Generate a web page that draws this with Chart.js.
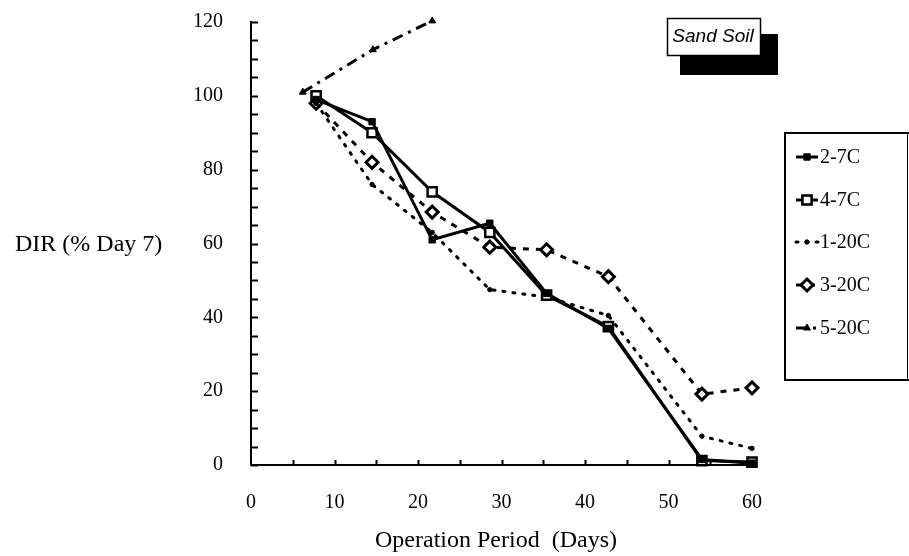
<!DOCTYPE html>
<html><head><meta charset="utf-8">
<script src="https://cdn.jsdelivr.net/npm/chart.js@4/dist/chart.umd.min.js"></script>
<style>html,body{margin:0;padding:0;background:#fff;}#wrap{position:relative;width:909px;height:556px;}canvas{display:block}</style>
</head><body><div id="wrap"><canvas id="c" width="909" height="556"></canvas></div>
<script>
const seriesNames = ['2-7C', '4-7C', '1-20C', '3-20C', '5-20C'];
const days = [7.8, 14.5, 21.7, 28.6, 35.4, 42.8, 54, 60];
const days520 = [6.2, 14.6, 21.7];
const s27 = [99, 93, 61, 65.5, 46.5, 37, 1.5, 0.5];
const s47 = [100, 90, 74, 63, 46, 37.5, 1.2, 0.8];
const s120 = [98, 76, 63, 47.5, 45.5, 40.5, 7.8, 4.5];
const s320 = [98, 82, 68.5, 59, 58.3, 51, 19.2, 20.9];
const s520 = [101, 112.5, 120.3];
const xTicks = [0, 10, 20, 30, 40, 50, 60];
const yTicks = [0, 20, 40, 60, 80, 100, 120];
const xTitle = 'Operation Period  (Days)';
const yTitle = 'DIR (% Day 7)';
const boxTitle = 'Sand Soil';

const K = '#000';
const pts = (xs, ys) => xs.map((x, i) => ({x: x, y: ys[i]}));
const datasets = [
  {label: seriesNames[0], data: pts(days, s27), borderColor: K, borderWidth: 3, pointStyle: 'rect', pointRadius: 4.5, pointBackgroundColor: K, pointBorderColor: K, pointBorderWidth: 1},
  {label: seriesNames[1], data: pts(days, s47), borderColor: K, borderWidth: 3, pointStyle: 'rect', pointRadius: 6.5, pointBackgroundColor: '#fff', pointBorderColor: K, pointBorderWidth: 2.5},
  {label: seriesNames[2], data: pts(days, s120), borderColor: K, borderWidth: 3, borderDash: [2, 8], borderCapStyle: 'round', pointStyle: 'circle', pointRadius: 2.2, pointBackgroundColor: K, pointBorderColor: K, pointBorderWidth: 1},
  {label: seriesNames[3], data: pts(days, s320), borderColor: K, borderWidth: 3, borderDash: [6, 7], pointStyle: 'rectRot', pointRadius: 6, pointBackgroundColor: '#fff', pointBorderColor: K, pointBorderWidth: 3},
  {label: seriesNames[4], data: pts(days520, s520), borderColor: K, borderWidth: 3, borderDash: [11, 6, 3, 6], pointStyle: 'triangle', pointRadius: 4, pointBackgroundColor: K, pointBorderColor: K, pointBorderWidth: 1}
];
datasets.forEach(d => { d.fill = false; d.tension = 0; d.clip = false; d.pointHoverRadius = d.pointRadius; });

const serif = "'Liberation Serif', 'Times New Roman', serif";

const decor = {
  id: 'decor',
  afterDraw(chart) {
    const ctx = chart.ctx;
    const xs = chart.scales.x, ys = chart.scales.y;
    ctx.save();
    ctx.strokeStyle = K; ctx.lineWidth = 2; ctx.setLineDash([]);
    ys.ticks.forEach(t => {
      const py = Math.round(ys.getPixelForValue(t.value)) + 0.5;
      ctx.beginPath(); ctx.moveTo(ys.right, py); ctx.lineTo(ys.right + 7, py); ctx.stroke();
    });
    xs.ticks.forEach(t => {
      if (t.value === 0) return;
      const px = Math.round(xs.getPixelForValue(t.value)) + 0.5;
      ctx.beginPath(); ctx.moveTo(px, xs.top); ctx.lineTo(px, xs.top - 5); ctx.stroke();
    });
    ctx.fillStyle = K;
    ctx.font = '24px ' + serif;
    ctx.textBaseline = 'middle';
    ctx.textAlign = 'left';
    ctx.fillText(yTitle, 15, 245);
    ctx.textAlign = 'center';
    ctx.fillText(xTitle, 496, 541);
    ctx.fillStyle = K;
    ctx.fillRect(680, 34, 98, 41);
    ctx.fillStyle = '#fff';
    ctx.fillRect(667, 18, 93, 37);
    ctx.lineWidth = 1.5; ctx.strokeStyle = K;
    ctx.strokeRect(667.5, 18.5, 93, 37);
    ctx.fillStyle = K;
    ctx.font = "italic 19px 'Liberation Sans', Arial, sans-serif";
    ctx.textAlign = 'center';
    ctx.fillText(boxTitle, 713, 37);
    ctx.lineWidth = 2;
    ctx.beginPath();
    ctx.moveTo(909, 133); ctx.lineTo(785, 133); ctx.lineTo(785, 380); ctx.lineTo(909, 380);
    ctx.stroke();
    ctx.beginPath(); ctx.lineWidth = 1; ctx.moveTo(907.5, 133); ctx.lineTo(907.5, 380); ctx.stroke();
    const ly = [157, 200, 242, 285, 328];
    chart.data.datasets.forEach((ds, i) => {
      const y = ly[i];
      ctx.save();
      ctx.strokeStyle = K; ctx.lineWidth = ds.borderWidth;
      ctx.setLineDash(ds.borderDash || []);
      ctx.lineCap = ds.borderCapStyle || 'butt';
      ctx.beginPath(); ctx.moveTo(796, y); ctx.lineTo(818, y); ctx.stroke();
      ctx.setLineDash([]);
      ctx.fillStyle = ds.pointBackgroundColor; ctx.strokeStyle = ds.pointBorderColor; ctx.lineWidth = ds.pointBorderWidth;
      Chart.helpers.drawPoint(ctx, {pointStyle: ds.pointStyle, radius: ds.pointRadius, borderWidth: ds.pointBorderWidth, rotation: 0}, 807, y);
      ctx.restore();
      ctx.fillStyle = K;
      ctx.font = '20px ' + serif;
      ctx.textAlign = 'left';
      ctx.textBaseline = 'middle';
      ctx.fillText(ds.label, 820, y + 1);
    });
    ctx.restore();
  }
};

new Chart(document.getElementById('c'), {
  type: 'line',
  data: {datasets: datasets},
  options: {
    responsive: false, animation: false, devicePixelRatio: 1,
    layout: {padding: {top: 22, right: 157, bottom: 0, left: 0}},
    plugins: {legend: {display: false}, tooltip: {enabled: false}},
    events: [],
    scales: {
      x: {
        type: 'linear', min: 0, max: 60,
        afterFit(s) { s.height = 91; s.paddingLeft = 0; s.paddingRight = 0; },
        grid: {display: false},
        border: {display: true, color: K, width: 2},
        ticks: {stepSize: 5, autoSkip: false, maxRotation: 0, padding: 18, color: K, font: {family: serif, size: 20},
          callback: v => xTicks.includes(v) ? String(v) : ''}
      },
      y: {
        type: 'linear', min: 0, max: 120,
        afterFit(s) { s.width = 251; s.paddingTop = 0; s.paddingBottom = 0; },
        grid: {display: false},
        border: {display: true, color: K, width: 2},
        ticks: {stepSize: 5, autoSkip: false, padding: 20, color: K, font: {family: serif, size: 20},
          callback: v => yTicks.includes(v) ? String(v) : ''}
      }
    }
  },
  plugins: [decor]
});
</script></body></html>
